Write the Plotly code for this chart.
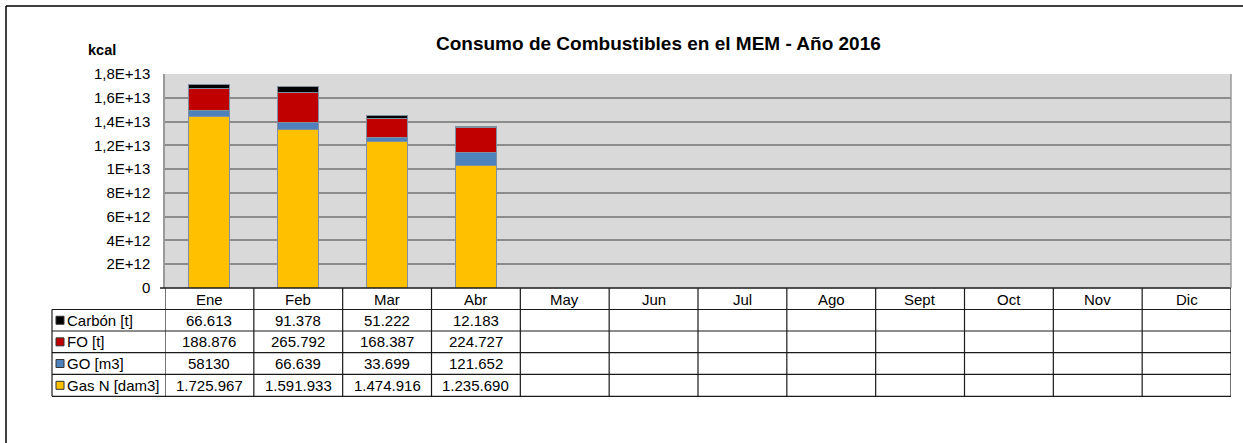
import plotly.graph_objects as go

# meses y datos
meses = ["Ene", "Feb", "Mar", "Abr", "May", "Jun", "Jul", "Ago", "Sept", "Oct", "Nov", "Dic"]
series = ["Carbón [t]", "FO [t]", "GO [m3]", "Gas N [dam3]"]
colores = ["#000000", "#c00000", "#4f81bd", "#ffc000"]

# kcal (barras apiladas)
gas_kcal = [14.45e12, 13.33e12, 12.33e12, 10.32e12]
go_kcal = [0.50e12, 0.57e12, 0.30e12, 1.05e12]
fo_kcal = [1.82e12, 2.56e12, 1.62e12, 2.17e12]
carbon_kcal = [0.36e12, 0.49e12, 0.28e12, 0.07e12]

# valores de la tabla
tabla_carbon = ["66.613", "91.378", "51.222", "12.183"]
tabla_fo = ["188.876", "265.792", "168.387", "224.727"]
tabla_go = ["58130", "66.639", "33.699", "121.652"]
tabla_gas = ["1.725.967", "1.591.933", "1.474.916", "1.235.690"]

ytick_vals = [0, 2e12, 4e12, 6e12, 8e12, 10e12, 12e12, 14e12, 16e12, 18e12]
ytick_text = ["0", "2E+12", "4E+12", "6E+12", "8E+12", "1E+13", "1,2E+13", "1,4E+13", "1,6E+13", "1,8E+13"]

FONT = "Liberation Sans, Arial, sans-serif"

# pixel helpers (plot area 165..1231 x 74..288)
def px(x):
    return (x - 165) / 1066.0

def py(y):
    return (288 - y) / 214.0

fig = go.Figure()
# orden de apilado: gas abajo, carbon arriba
for vals, name, col in [(gas_kcal, series[3], colores[3]), (go_kcal, series[2], colores[2]),
                        (fo_kcal, series[1], colores[1]), (carbon_kcal, series[0], colores[0])]:
    fig.add_trace(go.Bar(x=meses[:len(vals)], y=vals, name=name, marker_color=col,
                         marker_line=dict(color="#7f8fa0", width=1), showlegend=False))

shapes = []
annotations = []
line_col = "#1a1a1a"

# filas de la tabla
row_y = [288, 309.5, 331, 352.7, 374.3, 396.3]
# lineas horizontales
shapes.append(dict(type="line", xref="paper", yref="paper", x0=px(160), x1=px(1231),
                   y0=py(288), y1=py(288), line=dict(color=line_col, width=1.5)))
for yy in row_y[1:]:
    shapes.append(dict(type="line", xref="paper", yref="paper", x0=px(52), x1=px(1231),
                       y0=py(yy), y1=py(yy), line=dict(color=line_col, width=1.2)))
# lineas verticales
shapes.append(dict(type="line", xref="paper", yref="paper", x0=px(52), x1=px(52),
                   y0=py(309.5), y1=py(396.3), line=dict(color=line_col, width=1.2)))
for i in range(13):
    shapes.append(dict(type="line", xref="x", yref="paper", x0=i - 0.5, x1=i - 0.5,
                       y0=py(288), y1=py(396.3), line=dict(color=line_col, width=1.2)))
# borde derecho del area de grafico
shapes.append(dict(type="line", xref="paper", yref="paper", x0=1, x1=1, y0=0, y1=1,
                   line=dict(color="#9a9a9a", width=1.5)))
# marco exterior
shapes.append(dict(type="line", xref="paper", yref="paper", x0=px(6), x1=px(1243),
                   y0=py(6), y1=py(6), line=dict(color="#000000", width=1.5)))
shapes.append(dict(type="line", xref="paper", yref="paper", x0=px(6), x1=px(6),
                   y0=py(6), y1=py(443), line=dict(color="#000000", width=1.5)))

# encabezado de meses
for m in meses:
    annotations.append(dict(x=m, y=py(299), xref="x", yref="paper", text=m, showarrow=False,
                            xanchor="center", yanchor="middle",
                            font=dict(family=FONT, size=15, color="#000000")))

# filas de datos
filas = [tabla_carbon, tabla_fo, tabla_go, tabla_gas]
for r, (name, col, fila) in enumerate(zip(series, colores, filas)):
    yc = (row_y[r + 1] + row_y[r + 2]) / 2
    shapes.append(dict(type="rect", xref="paper", yref="paper", x0=px(56), x1=px(64),
                       y0=py(yc - 4), y1=py(yc + 4), fillcolor=col,
                       line=dict(color="#333333", width=1)))
    annotations.append(dict(x=px(65), y=py(yc), xref="paper", yref="paper", text=name,
                            showarrow=False, xanchor="left", yanchor="middle",
                            font=dict(family=FONT, size=15, color="#000000")))
    for m, v in zip(meses, fila):
        annotations.append(dict(x=m, y=py(yc), xref="x", yref="paper", text=v, showarrow=False,
                                xanchor="center", yanchor="middle",
                                font=dict(family=FONT, size=15, color="#000000")))

# titulo y unidad
annotations.append(dict(x=px(658), y=py(43), xref="paper", yref="paper",
                        text="<b>Consumo de Combustibles en el MEM - Año 2016</b>", showarrow=False,
                        xanchor="center", yanchor="middle",
                        font=dict(family=FONT, size=19, color="#000000")))
annotations.append(dict(x=px(102), y=py(50), xref="paper", yref="paper", text="<b>kcal</b>",
                        showarrow=False, xanchor="center", yanchor="middle",
                        font=dict(family=FONT, size=14.5, color="#000000")))

fig.update_layout(
    width=1243, height=443,
    margin=dict(l=165, r=12, t=74, b=155),
    barmode="stack", bargap=0.54,
    plot_bgcolor="#d9d9d9", paper_bgcolor="#ffffff",
    shapes=shapes, annotations=annotations,
    font=dict(family=FONT, size=15, color="#000000"),
)
fig.update_xaxes(categoryorder="array", categoryarray=meses, range=[-0.5, 11.5],
                 showticklabels=False, showgrid=False, zeroline=False, showline=False)
fig.update_yaxes(range=[0, 1.8e13], tickvals=ytick_vals, ticktext=ytick_text,
                 showgrid=True, gridcolor="#8c8c8c", gridwidth=1.5, zeroline=False,
                 showline=True, linecolor="#9a9a9a", linewidth=1.5, ticklabelstandoff=10,
                 tickfont=dict(family=FONT, size=15, color="#000000"))

# quitar el margen del body para que la figura empiece en (0,0)
fig.write_html("out.html", config={"displayModeBar": False},
               post_script="document.body.style.margin='0';")
